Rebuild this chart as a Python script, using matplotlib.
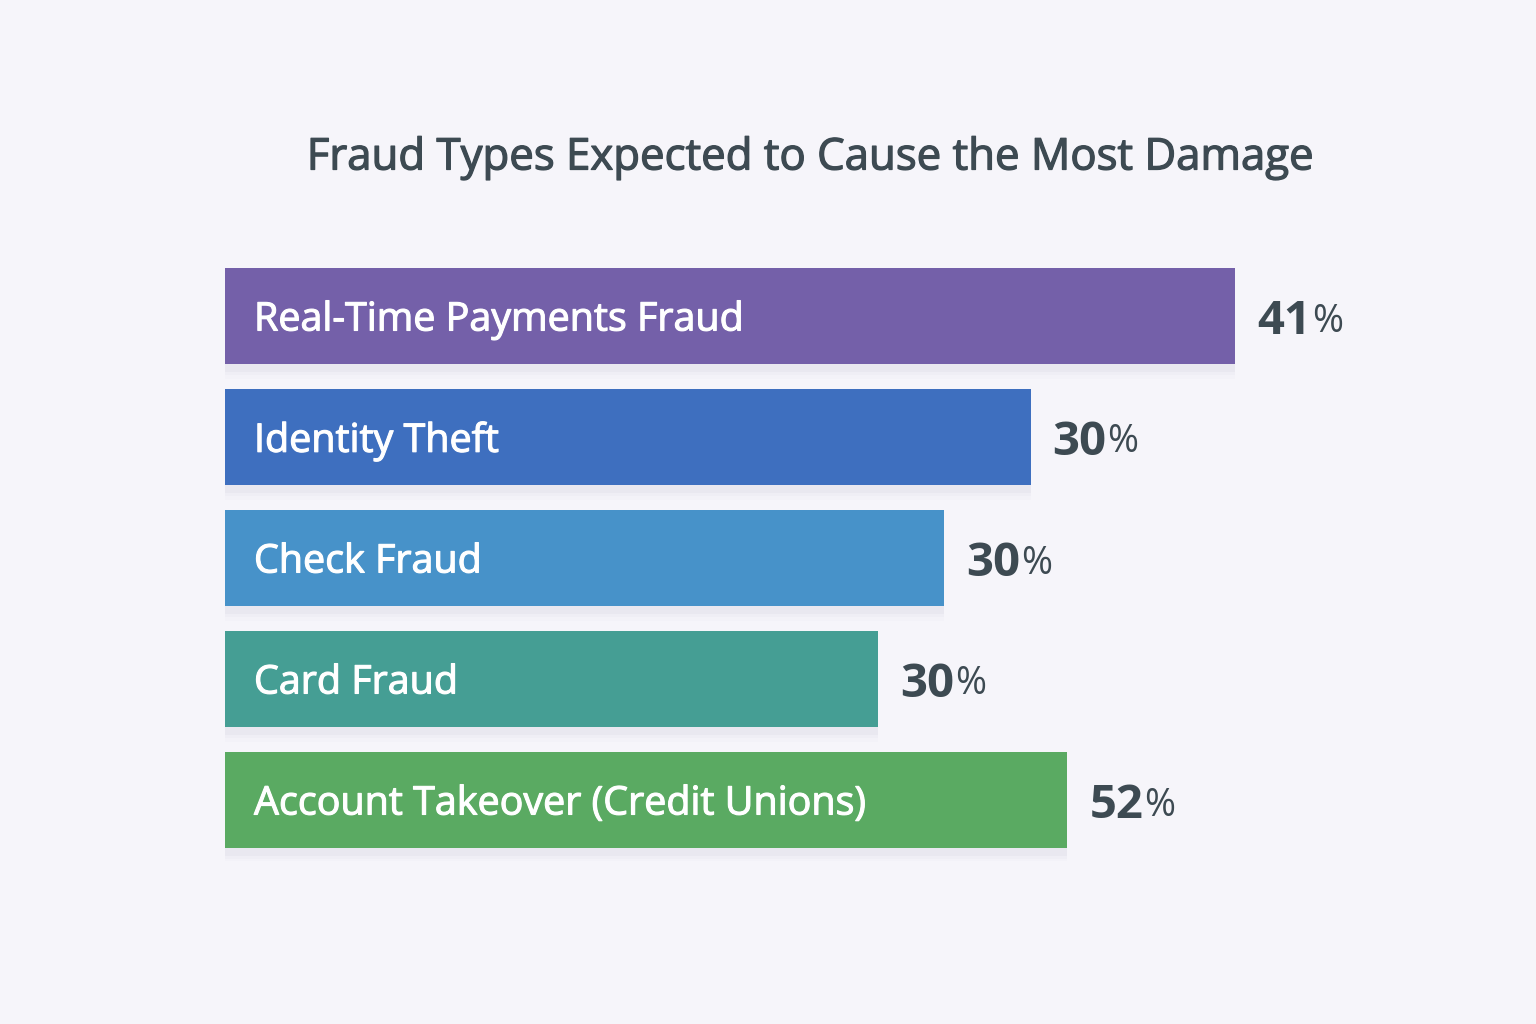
import matplotlib.pyplot as plt
import matplotlib.patheffects as pe
from matplotlib.transforms import offset_copy

categories = ["Real-Time Payments Fraud", "Identity Theft", "Check Fraud",
              "Card Fraud", "Account Takeover (Credit Unions)"]
# percentages printed next to each bar
values = [41, 30, 30, 30, 52]
# the source draws bars that are not proportional to the printed values;
# these are the bar lengths, on the same 0-41 scale
bar_lengths = [41, 32.7, 29.2, 26.5, 34.2]
colors = ["#7460a9", "#3e6fbf", "#4792c9", "#459e94", "#5aaa62"]

BG = "#f6f5fa"
TEXT = "#3d4a52"

plt.rcParams["font.family"] = ["Open Sans", "DejaVu Sans"]

fig = plt.figure(figsize=(15.36, 10.24), dpi=100, facecolor=BG)
ax = fig.add_axes([225 / 1536, 1 - 860.5 / 1024, 1010 / 1536, 605 / 1024])
ax.set_facecolor(BG)
ax.set_xlim(0, 41)
ax.set_ylim(4.5, -0.5)
ax.axis("off")

ypos = list(range(len(categories)))

# soft shadow under each bar
for k, a in enumerate([0.035, 0.025, 0.015]):
    ax.barh([y + 0.06 + 0.03 * k for y in ypos], bar_lengths, height=0.8,
            color="#5a5f80", alpha=a, zorder=1)

ax.barh(ypos, bar_lengths, height=0.8, color=colors, zorder=2)

# a thin stroke fakes a medium weight (only regular/bold are installed)
white_med = [pe.withStroke(linewidth=0.8, foreground="white")]
text_med = [pe.withStroke(linewidth=0.9, foreground=TEXT)]

fig.canvas.draw()
renderer = fig.canvas.get_renderer()
for y, name, v, L in zip(ypos, categories, values, bar_lengths):
    ax.text(0, y, name, transform=offset_copy(ax.transData, fig=fig, x=29, y=0, units="dots"),
            color="white", fontsize=28.4, va="center_baseline", ha="left", zorder=3,
            path_effects=white_med)
    t = ax.text(L, y, str(v), transform=offset_copy(ax.transData, fig=fig, x=22, y=0, units="dots"),
                color=TEXT, fontsize=34, fontweight="bold", va="center_baseline", ha="left", zorder=3)
    w = t.get_window_extent(renderer).width
    ax.text(L, y, "%", transform=offset_copy(ax.transData, fig=fig, x=22 + w + 1, y=-1, units="dots"),
            color=TEXT, fontsize=27, va="center_baseline", ha="left", zorder=3)

fig.text(810 / 1536, 1 - 158 / 1024, "Fraud Types Expected to Cause the Most Damage",
         ha="center", va="center", fontsize=31.5, color=TEXT, path_effects=text_med)

fig.savefig("out.png", dpi=100, facecolor=BG)
